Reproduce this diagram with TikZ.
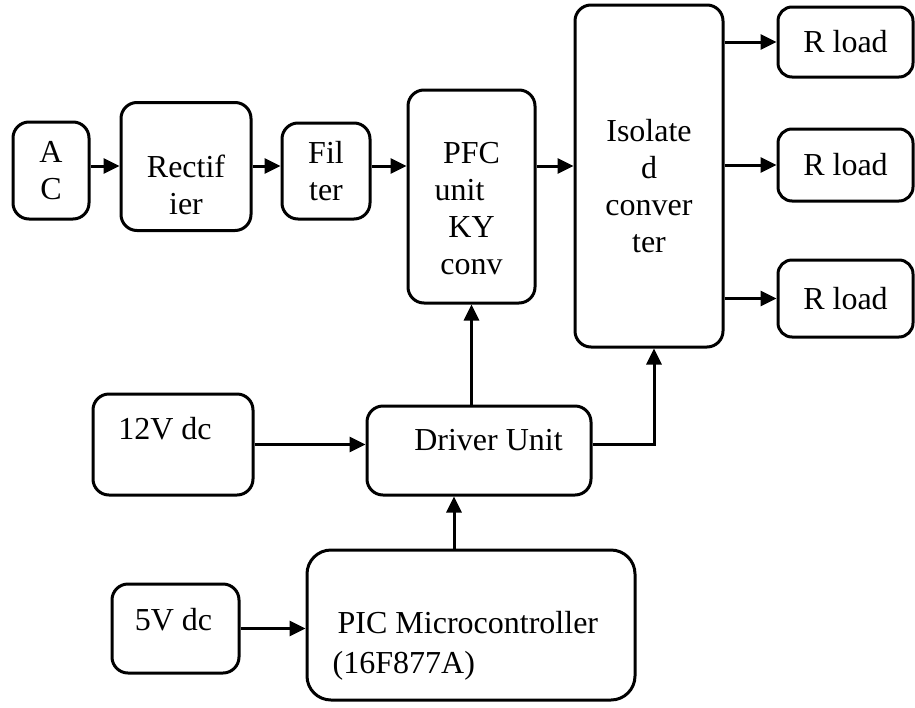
\documentclass[tikz,border=0pt]{standalone}
\usepackage{fontspec}
\setmainfont{Liberation Serif}
\usetikzlibrary{arrows.meta}

\tikzset{
  blk/.style={draw, line width=3pt, rounded corners=16pt, inner sep=0pt},
  txt/.style={font=\fontsize{32}{37}\selectfont, align=center, inner sep=0pt},
  arr/.style={line width=3pt, -{Triangle[length=16pt,width=15pt]}},
}

\begin{document}
\begin{tikzpicture}[x=1pt, y=-1pt]
    \useasboundingbox (0,0) rectangle (915,707);

    % Power stage
    \node[blk, txt, minimum width=76pt, minimum height=97pt] (ac) at (51,170.5) {A\\C};
    \node[blk, minimum width=130pt, minimum height=128pt] (rect) at (186,166.5) {};
    \node[txt] at ([yshift=-18.5pt]rect.center) {Rectif\\ier};
    \node[blk, txt, minimum width=88pt, minimum height=96pt] (filt) at (326,171) {Fil\\ter};
    \node[blk, minimum width=127pt, minimum height=213pt] (pfc) at (471.5,196.5) {};
    \node[txt] at ([yshift=-12.5pt]pfc.center) {PFC\\unit\kern24pt\relax\\KY\\conv};
    \node[blk, minimum width=148pt, minimum height=342pt] (iso) at (649,176) {};
    \node[txt] at ([yshift=-10.5pt]iso.center) {Isolate\\d\\conver\\ter};

    % Loads
    \node[blk, txt, minimum width=135pt, minimum height=70pt, rounded corners=14pt] (load1) at (845.5,42) {R load};
    \node[blk, txt, minimum width=135pt, minimum height=72pt, rounded corners=14pt] (load2) at (845.5,165) {R load};
    \node[blk, txt, minimum width=135pt, minimum height=77pt, rounded corners=14pt] (load3) at (845.5,298.5) {R load};

    % Control stage
    \node[blk, minimum width=224pt, minimum height=89pt] (drv) at (479,450.5) {};
    \node[txt] at ([xshift=9.5pt, yshift=10.5pt]drv.center) {Driver Unit};
    \node[blk, minimum width=160pt, minimum height=101pt] (v12) at (173,444.5) {};
    \node[txt] at ([xshift=-8pt, yshift=16pt]v12.center) {12V dc};
    \node[blk, minimum width=328pt, minimum height=150pt, rounded corners=24pt] (pic) at (471,625) {};
    \node[txt, font=\fontsize{32}{40}\selectfont, align=left, anchor=west] at ([xshift=27pt, yshift=-20.5pt]pic.west) {\hspace*{5pt}PIC Microcontroller\\(16F877A)};
    \node[blk, minimum width=127pt, minimum height=89pt] (v5) at (175.5,628.5) {};
    \node[txt] at ([xshift=-2pt, yshift=8.5pt]v5.center) {5V dc};

    % Connections
    \coordinate (row) at (0,166);
    \draw[arr] (ac.east |- row) -- (rect.west |- row);
    \draw[arr] (rect.east |- row) -- (filt.west |- row);
    \draw[arr] (filt.east |- row) -- (pfc.west |- row);
    \draw[arr] (pfc.east |- row) -- (iso.west |- row);
    \foreach \ld in {load1,load2,load3}
        \draw[arr] (iso.east |- \ld) -- (\ld.west);
    \draw[arr] (v12.east) -- (v12.east -| drv.west);
    \draw[arr] (drv.north -| pfc.south) -- (pfc.south);
    \draw[arr] (drv.east |- v12.east) -| ([xshift=5pt]iso.south);
    \draw[arr] (v5.east) -- (v5.east -| pic.west);
    \draw[arr] ([xshift=-17pt]pic.north) -- ([xshift=-17pt]pic.north |- drv.south);
\end{tikzpicture}
\end{document}
